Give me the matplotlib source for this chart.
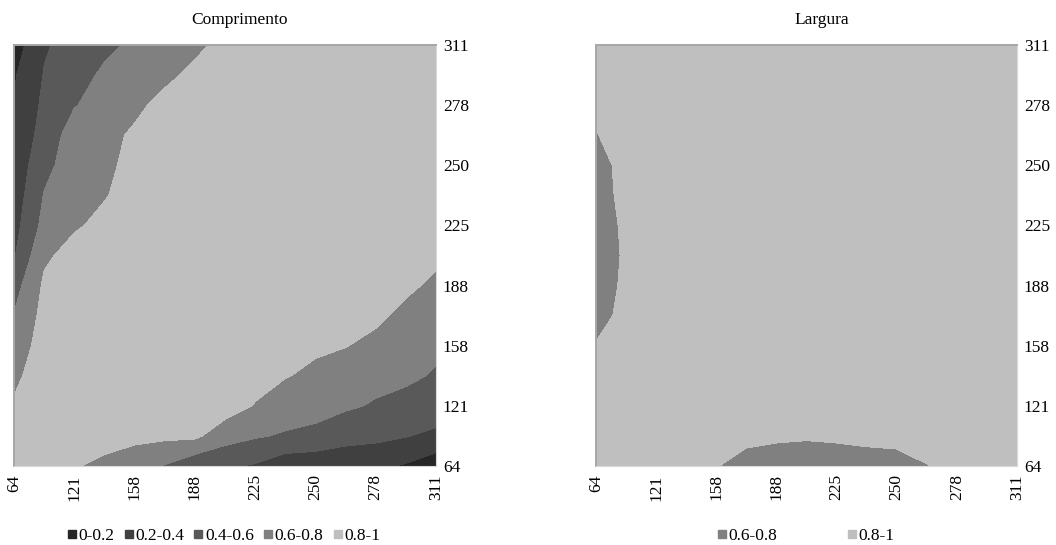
import matplotlib
matplotlib.use("Agg")
import matplotlib.pyplot as plt
from matplotlib.lines import Line2D
import numpy as np

# category labels shown on both axes (evenly spaced categories)
tick_labels = ["64", "121", "158", "188", "225", "250", "278", "311"]

# contour bands and grey fills
band_levels = [0.0, 0.2, 0.4, 0.6, 0.8, 1.0]
band_names = ["0-0.2", "0.2-0.4", "0.4-0.6", "0.6-0.8", "0.8-1"]
band_colors = ["#262626", "#404040", "#595959", "#808080", "#bfbfbf"]

# grid values on half-category steps, first row = 64 (bottom), last row = 311 (top)
comprimento = [
    [0.90, 0.88, 0.82, 0.74, 0.66, 0.59, 0.45, 0.43, 0.38, 0.27, 0.26, 0.28, 0.24, 0.18, 0.08],
    [0.86, 0.93, 0.92, 0.90, 0.86, 0.84, 0.84, 0.68, 0.62, 0.58, 0.55, 0.46, 0.45, 0.41, 0.35],
    [0.82, 0.91, 0.93, 0.93, 0.92, 0.90, 0.90, 0.90, 0.79, 0.70, 0.67, 0.63, 0.58, 0.53, 0.53],
    [0.76, 0.90, 0.93, 0.93, 0.93, 0.93, 0.93, 0.92, 0.86, 0.81, 0.76, 0.72, 0.66, 0.64, 0.58],
    [0.69, 0.88, 0.93, 0.93, 0.93, 0.93, 0.93, 0.93, 0.90, 0.87, 0.83, 0.805, 0.76, 0.70, 0.64],
    [0.61, 0.86, 0.91, 0.93, 0.93, 0.93, 0.93, 0.93, 0.93, 0.91, 0.88, 0.86, 0.83, 0.76, 0.70],
    [0.52, 0.83, 0.89, 0.92, 0.93, 0.93, 0.93, 0.93, 0.93, 0.93, 0.91, 0.90, 0.88, 0.83, 0.77],
    [0.38, 0.77, 0.86, 0.90, 0.92, 0.93, 0.93, 0.93, 0.93, 0.93, 0.93, 0.92, 0.91, 0.87, 0.83],
    [0.33, 0.66, 0.78, 0.84, 0.89, 0.92, 0.93, 0.93, 0.93, 0.93, 0.93, 0.93, 0.93, 0.90, 0.87],
    [0.29, 0.61, 0.72, 0.79, 0.86, 0.90, 0.92, 0.93, 0.93, 0.93, 0.93, 0.93, 0.93, 0.92, 0.90],
    [0.26, 0.55, 0.69, 0.77, 0.84, 0.88, 0.91, 0.93, 0.93, 0.93, 0.93, 0.93, 0.93, 0.93, 0.92],
    [0.23, 0.48, 0.69, 0.76, 0.82, 0.87, 0.90, 0.92, 0.93, 0.93, 0.93, 0.93, 0.93, 0.93, 0.93],
    [0.21, 0.44, 0.59, 0.67, 0.77, 0.84, 0.88, 0.91, 0.93, 0.93, 0.93, 0.93, 0.93, 0.93, 0.93],
    [0.18, 0.41, 0.53, 0.63, 0.70, 0.77, 0.83, 0.87, 0.90, 0.92, 0.93, 0.93, 0.93, 0.93, 0.93],
    [0.10, 0.38, 0.47, 0.56, 0.63, 0.70, 0.77, 0.84, 0.88, 0.91, 0.93, 0.93, 0.93, 0.93, 0.93],
]

largura = [
    [0.86, 0.88, 0.88, 0.85, 0.805, 0.76, 0.735, 0.73, 0.735, 0.745, 0.76, 0.797, 0.83, 0.86, 0.88],
    [0.86, 0.88, 0.89, 0.88, 0.86, 0.827, 0.82, 0.813, 0.82, 0.831, 0.831, 0.84, 0.87, 0.89, 0.90],
    [0.85, 0.87, 0.89, 0.90, 0.90, 0.90, 0.90, 0.90, 0.90, 0.90, 0.90, 0.90, 0.90, 0.90, 0.90],
    [0.83, 0.86, 0.89, 0.90, 0.90, 0.90, 0.90, 0.90, 0.90, 0.90, 0.90, 0.90, 0.90, 0.90, 0.90],
    [0.805, 0.84, 0.88, 0.90, 0.90, 0.90, 0.90, 0.90, 0.90, 0.90, 0.90, 0.90, 0.90, 0.90, 0.90],
    [0.77, 0.824, 0.87, 0.90, 0.90, 0.90, 0.90, 0.90, 0.90, 0.90, 0.90, 0.90, 0.90, 0.90, 0.90],
    [0.74, 0.823, 0.87, 0.90, 0.90, 0.90, 0.90, 0.90, 0.90, 0.90, 0.90, 0.90, 0.90, 0.90, 0.90],
    [0.72, 0.82, 0.87, 0.90, 0.90, 0.90, 0.90, 0.90, 0.90, 0.90, 0.90, 0.90, 0.90, 0.90, 0.90],
    [0.73, 0.825, 0.87, 0.90, 0.90, 0.90, 0.90, 0.90, 0.90, 0.90, 0.90, 0.90, 0.90, 0.90, 0.90],
    [0.75, 0.833, 0.87, 0.90, 0.90, 0.90, 0.90, 0.90, 0.90, 0.90, 0.90, 0.90, 0.90, 0.90, 0.90],
    [0.77, 0.826, 0.87, 0.90, 0.90, 0.90, 0.90, 0.90, 0.90, 0.90, 0.90, 0.90, 0.90, 0.90, 0.90],
    [0.795, 0.85, 0.88, 0.90, 0.90, 0.90, 0.90, 0.90, 0.90, 0.90, 0.90, 0.90, 0.90, 0.90, 0.90],
    [0.82, 0.87, 0.89, 0.90, 0.90, 0.90, 0.90, 0.90, 0.90, 0.90, 0.90, 0.90, 0.90, 0.90, 0.90],
    [0.85, 0.88, 0.90, 0.90, 0.90, 0.90, 0.90, 0.90, 0.90, 0.90, 0.90, 0.90, 0.90, 0.90, 0.90],
    [0.87, 0.89, 0.90, 0.90, 0.90, 0.90, 0.90, 0.90, 0.90, 0.90, 0.90, 0.90, 0.90, 0.90, 0.90],
]

plt.rcParams.update(
    {
        "font.family": "Liberation Serif",
        "font.size": 12.5,
        "figure.dpi": 100,
    }
)


def draw_panel(axis, values):
    z = np.array(values)
    n = len(tick_labels) - 1
    axis.contourf(np.linspace(0, n, z.shape[1]), np.linspace(0, n, z.shape[0]), z,
                  levels=band_levels, colors=band_colors)
    axis.set_xlim(0, n)
    axis.set_ylim(0, n)
    axis.set_xticks(range(len(tick_labels)), labels=tick_labels, rotation=90)
    axis.set_yticks(range(len(tick_labels)), labels=tick_labels)
    axis.yaxis.tick_right()
    axis.tick_params(axis="x", length=0, pad=6)
    axis.tick_params(axis="y", length=0, pad=5)
    for side in ("left", "top"):
        axis.spines[side].set_color("#a6a6a6")
        axis.spines[side].set_linewidth(1.4)
    for side in ("right", "bottom"):
        axis.spines[side].set_color("#d9d9d9")
        axis.spines[side].set_linewidth(0.8)


def band_handles(indices):
    return [
        Line2D([], [], linestyle="none", marker="s", markersize=5.2,
               markerfacecolor=band_colors[i], markeredgecolor=band_colors[i], label=band_names[i])
        for i in indices
    ]


fig = plt.figure(figsize=(10.56, 5.45))
left = fig.add_axes([14 / 1056, 1 - 466 / 545, 422 / 1056, 421 / 545])
right = fig.add_axes([596 / 1056, 1 - 466 / 545, 421 / 1056, 421 / 545])

draw_panel(left, comprimento)
draw_panel(right, largura)

fig.text(240 / 1056, 1 - 20 / 545, "Comprimento", ha="center", va="center")
fig.text(822 / 1056, 1 - 20 / 545, "Largura", ha="center", va="center")

fig.legend(handles=band_handles(range(5)), loc="center", bbox_to_anchor=(224 / 1056, 1 - 536 / 545),
           ncol=5, frameon=False, handletextpad=0.15, columnspacing=0.6, handlelength=0.45,
           borderpad=0, borderaxespad=0)
fig.legend(handles=band_handles([3, 4]), loc="center", bbox_to_anchor=(806 / 1056, 1 - 536 / 545),
           ncol=2, frameon=False, handletextpad=0.15, columnspacing=4.1, handlelength=0.45,
           borderpad=0, borderaxespad=0)

fig.savefig("out.png", dpi=100)
